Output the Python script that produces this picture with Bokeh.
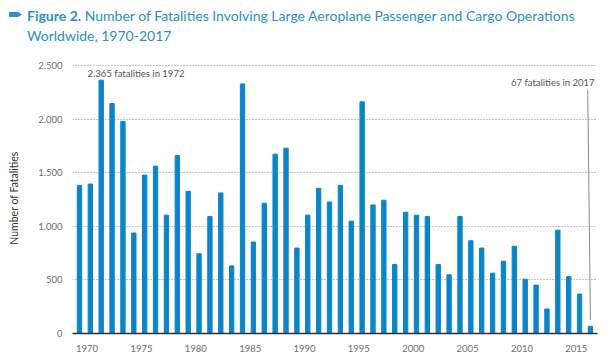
from bokeh.plotting import figure
from bokeh.layouts import column
from bokeh.models import FixedTicker, Label, Range1d, Div
from bokeh.embed import file_html
from bokeh.resources import INLINE

# ---- data ----
years = list(range(1970, 2018))
fatalities = [1383, 1395, 2365, 2147, 1980, 938, 1479, 1562, 1105, 1661, 1327, 745,
              1092, 1312, 631, 2330,
              854, 1216, 1674, 1730, 798, 1105, 1355, 1228, 1383, 1049, 2163, 1200,
              1244, 644, 1132, 1105,
              1092, 644, 548, 1092, 866, 798, 563, 675, 814, 507, 452, 229, 965, 532,
              368, 67]
x_tick_years = [1970, 1975, 1980, 1985, 1990, 1995, 2000, 2005, 2010, 2015]
x_tick_labels = ["1970", "1975", "1980", "1985", "1990", "1995", "2000", "2005", "2010", "2015"]
y_ticks = [0, 500, 1000, 1500, 2000, 2500]
y_tick_labels = ["0", "500", "1.000", "1.500", "2.000", "2.500"]
title_bold = "Figure 2."
title_rest = "Number of Fatalities Involving Large Aeroplane Passenger and Cargo Operations"
title_line2 = "Worldwide, 1970-2017"
y_title = "Number of Fatalities"
note_max = "2.365 fatalities in 1972"
note_last = "67 fatalities in 2017"

FONT = "Lato"
BLUE = "#0b85ca"
TITLE_BLUE = "#2a8fcb"
GREY = "#6e6e6e"

title_html = (
    f'<div style="position:relative;width:612px;height:56px;font-family:{FONT};'
    f'font-size:14px;line-height:20px;color:{TITLE_BLUE};white-space:nowrap;">'
    f'<span style="position:absolute;left:9px;top:12px;width:13px;height:5px;'
    f'background:{TITLE_BLUE};border-radius:1px;'
    f'clip-path:polygon(0 0,70% 0,100% 50%,70% 100%,0 100%);"></span>'
    f'<div style="position:absolute;left:27px;top:6px;">'
    f'<b>{title_bold}</b> {title_rest}<br>{title_line2}</div></div>'
)
header = Div(text=title_html, width=612, height=56, margin=(0, 0, 0, 0))

p = figure(width=612, height=302, output_backend="svg", toolbar_location=None,
           x_range=Range1d(1969.36, 2017.65), y_range=Range1d(0, 2530),
           min_border_left=72, min_border_right=15, min_border_top=6,
           min_border_bottom=25, margin=(0, 0, 0, 0))
p.outline_line_color = None
p.background_fill_color = "white"
p.border_fill_color = "white"

p.vbar(x=years, top=fatalities, width=0.4, color=BLUE)

# axes
label_offset = 0.7
xt = [round(y + label_offset, 2) for y in x_tick_years]
p.xaxis.ticker = FixedTicker(ticks=xt)
p.xaxis.major_label_overrides = {t: l for t, l in zip(xt, x_tick_labels)}
p.xaxis.major_tick_line_color = None
p.xaxis.major_tick_out = 0
p.xaxis.major_tick_in = 0
p.xaxis.minor_tick_line_color = None
p.xaxis.minor_tick_out = 0
p.xaxis.axis_line_color = "#333333"
p.xaxis.axis_line_width = 1.5
p.xaxis.major_label_standoff = 11
p.xaxis.major_label_text_font = FONT
p.xaxis.major_label_text_font_size = "9.5px"
p.xaxis.major_label_text_color = GREY

p.yaxis.ticker = FixedTicker(ticks=y_ticks)
p.yaxis.major_label_overrides = {t: l for t, l in zip(y_ticks, y_tick_labels)}
p.yaxis.major_tick_line_color = None
p.yaxis.major_tick_out = 0
p.yaxis.major_tick_in = 0
p.yaxis.minor_tick_line_color = None
p.yaxis.minor_tick_out = 0
p.yaxis.axis_line_color = None
p.yaxis.major_label_standoff = 10
p.yaxis.major_label_text_font = FONT
p.yaxis.major_label_text_font_size = "9.5px"
p.yaxis.major_label_text_color = GREY
p.yaxis.axis_label = y_title
p.yaxis.axis_label_text_font = FONT
p.yaxis.axis_label_text_font_size = "10.5px"
p.yaxis.axis_label_text_font_style = "normal"
p.yaxis.axis_label_text_color = "#333333"
p.yaxis.axis_label_standoff = 15

p.xgrid.grid_line_color = None
p.ygrid.grid_line_color = "#8a8a8a"
p.ygrid.grid_line_dash = "1 2"
p.ygrid.grid_line_width = 1

# annotations
p.add_layout(Label(x=1970.75, y=2425, text=note_max, text_font=FONT,
                   text_font_size="9.5px", text_color="#555555",
                   text_baseline="middle", text_align="left"))
p.add_layout(Label(x=2017.38, y=2344, text=note_last, text_font=FONT,
                   text_font_size="9.5px", text_color="#555555",
                   text_baseline="middle", text_align="right"))
p.segment(x0=[2016.75], y0=[2276], x1=[2017.0], y1=[125], line_color="#8a8a8a",
          line_width=1)

layout = column(header, p, spacing=0, margin=(0, 0, 0, 0))
open("out.html", "w").write(file_html(layout, INLINE))
